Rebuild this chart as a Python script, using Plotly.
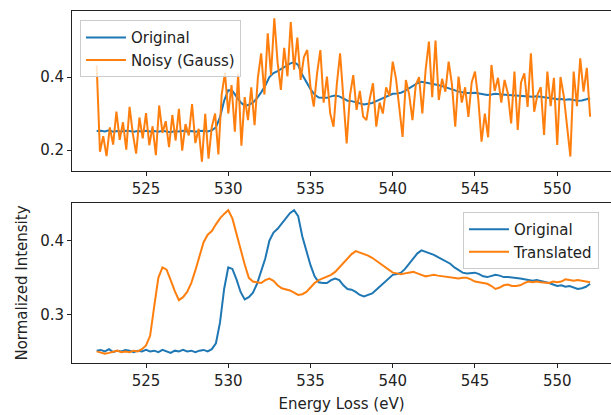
import numpy as np
import plotly.graph_objects as go
from plotly.subplots import make_subplots

# Energy grids (eV)
energy = np.round(np.arange(522.0, 552.0001, 0.25), 2)
energy_noisy = np.round(np.arange(522.0, 552.0001, 0.2), 2)

original = [
    0.252, 0.253, 0.251, 0.254, 0.250, 0.252, 0.251, 0.253, 0.252, 0.250,
    0.252, 0.251, 0.253, 0.251, 0.252, 0.250, 0.253, 0.251, 0.249, 0.252,
    0.251, 0.253, 0.251, 0.252, 0.250, 0.252, 0.253, 0.251, 0.254, 0.262,
    0.290, 0.335, 0.364, 0.362, 0.348, 0.331, 0.321, 0.324, 0.330, 0.342,
    0.358, 0.376, 0.400, 0.411, 0.416, 0.423, 0.430, 0.437, 0.441, 0.433,
    0.406, 0.386, 0.367, 0.352, 0.344, 0.343, 0.343, 0.347, 0.349, 0.347,
    0.340, 0.335, 0.334, 0.331, 0.327, 0.325, 0.327, 0.329, 0.334, 0.339,
    0.345, 0.350, 0.354, 0.355, 0.357, 0.362, 0.369, 0.376, 0.383, 0.387,
    0.385, 0.384, 0.381, 0.378, 0.375, 0.372, 0.369, 0.364, 0.360, 0.357,
    0.356, 0.356, 0.357, 0.355, 0.352, 0.351, 0.352, 0.354, 0.353, 0.351,
    0.351, 0.350, 0.349, 0.349, 0.348, 0.347, 0.346, 0.347, 0.346, 0.344,
    0.343, 0.341, 0.339, 0.340, 0.338, 0.339, 0.337, 0.335, 0.336, 0.338,
    0.342,
]

translated = [
    0.251, 0.250, 0.248, 0.249, 0.251, 0.252, 0.250, 0.251, 0.250, 0.252,
    0.251, 0.254, 0.259, 0.272, 0.312, 0.350, 0.364, 0.361, 0.347, 0.332,
    0.320, 0.324, 0.331, 0.343, 0.360, 0.378, 0.398, 0.408, 0.413, 0.422,
    0.430, 0.436, 0.441, 0.430, 0.408, 0.386, 0.368, 0.350, 0.345, 0.344,
    0.343, 0.347, 0.349, 0.346, 0.340, 0.336, 0.335, 0.333, 0.330, 0.327,
    0.328, 0.331, 0.337, 0.343, 0.347, 0.349, 0.351, 0.354, 0.358, 0.364,
    0.370, 0.376, 0.382, 0.386, 0.384, 0.383, 0.380, 0.377, 0.373, 0.369,
    0.365, 0.360, 0.357, 0.356, 0.355, 0.356, 0.357, 0.358, 0.356, 0.354,
    0.352, 0.353, 0.354, 0.353, 0.352, 0.351, 0.351, 0.350, 0.349, 0.350,
    0.350, 0.348, 0.345, 0.344, 0.343, 0.342, 0.339, 0.335, 0.337, 0.340,
    0.341, 0.339, 0.339, 0.340, 0.343, 0.345, 0.344, 0.345, 0.344, 0.343,
    0.343, 0.345, 0.344, 0.345, 0.348, 0.347, 0.346, 0.347, 0.346, 0.345,
    0.344,
]

noisy = [
    0.432, 0.195, 0.238, 0.183, 0.262, 0.215, 0.305, 0.228, 0.276, 0.201,
    0.318, 0.244, 0.190, 0.289, 0.232, 0.301, 0.213, 0.265, 0.186, 0.322,
    0.247, 0.279, 0.208, 0.296, 0.226, 0.313, 0.198, 0.271, 0.240, 0.326,
    0.219, 0.258, 0.168, 0.299, 0.176, 0.263,
    0.300, 0.188, 0.352, 0.412, 0.300, 0.378, 0.250, 0.408, 0.212, 0.345,
    0.282, 0.372, 0.268, 0.398, 0.465, 0.352, 0.520, 0.405, 0.561, 0.440,
    0.365, 0.480, 0.402, 0.551, 0.420, 0.508, 0.392, 0.455, 0.474, 0.372,
    0.319, 0.410, 0.474, 0.330, 0.401, 0.300, 0.264, 0.380, 0.465, 0.330,
    0.218, 0.350, 0.405, 0.310, 0.362, 0.292, 0.282, 0.340, 0.383, 0.264,
    0.330, 0.300, 0.372, 0.348, 0.442, 0.395, 0.310, 0.236, 0.392, 0.352,
    0.282, 0.378, 0.400, 0.300, 0.420, 0.497, 0.345, 0.500, 0.337, 0.395,
    0.360, 0.442, 0.380, 0.264, 0.401,
    0.330, 0.372, 0.291, 0.385, 0.415, 0.340, 0.223, 0.300, 0.235, 0.433,
    0.362, 0.398, 0.330, 0.392, 0.355, 0.273, 0.415, 0.255, 0.385, 0.410,
    0.318, 0.465, 0.305, 0.352, 0.372, 0.241, 0.415, 0.320, 0.398, 0.214,
    0.400, 0.348, 0.265, 0.182, 0.415, 0.320, 0.451, 0.360, 0.425, 0.291,
]

x_ticks = [525, 530, 535, 540, 545, 550]
top_y_ticks = [0.2, 0.4]
bottom_y_ticks = [0.3, 0.4]

BLUE = "#1f77b4"
ORANGE = "#ff7f0e"
FONT = "DejaVu Sans"

fig = make_subplots(rows=2, cols=1, vertical_spacing=0.0)

fig.add_trace(go.Scatter(x=energy, y=original, mode="lines", name="Original",
                         line=dict(color=BLUE, width=2), legend="legend"), row=1, col=1)
fig.add_trace(go.Scatter(x=energy_noisy, y=noisy, mode="lines", name="Noisy (Gauss)",
                         line=dict(color=ORANGE, width=2), legend="legend"), row=1, col=1)
fig.add_trace(go.Scatter(x=energy, y=original, mode="lines", name="Original",
                         line=dict(color=BLUE, width=2), legend="legend2"), row=2, col=1)
fig.add_trace(go.Scatter(x=energy, y=translated, mode="lines", name="Translated",
                         line=dict(color=ORANGE, width=2), legend="legend2"), row=2, col=1)

axis_common = dict(showgrid=False, zeroline=False, showline=True, linecolor="#222",
                   linewidth=1, ticks="outside", ticklen=4, tickcolor="#222",
                   tickfont=dict(family=FONT, size=15, color="#222"))

fig.update_xaxes(**axis_common, mirror=True, range=[520.5, 553.27], tickvals=x_ticks)
fig.update_yaxes(**axis_common, mirror=False)

fig.update_layout(
    xaxis=dict(domain=[0, 1]),
    yaxis=dict(domain=[0.5455, 1.0], range=[0.1425, 0.581], tickvals=top_y_ticks,
               tickformat=".1f"),
    xaxis2=dict(domain=[0, 1],
                title=dict(text="Energy Loss (eV)", font=dict(family=FONT, size=15, color="#222"),
                           standoff=9)),
    yaxis2=dict(domain=[0.0, 0.4545], range=[0.2354, 0.4507], tickvals=bottom_y_ticks,
                tickformat=".1f",
                title=dict(text="Normalized Intensity", font=dict(family=FONT, size=15, color="#222"),
                           standoff=8)),
)

legend_style = dict(bgcolor="rgba(255,255,255,0.8)", bordercolor="#cccccc", borderwidth=1,
                    font=dict(family=FONT, size=15, color="#222"),
                    xanchor="left", yanchor="top", tracegroupgap=0, itemwidth=40)

fig.update_layout(
    width=611, height=415,
    margin=dict(l=72, r=0, t=11, b=52),
    paper_bgcolor="white", plot_bgcolor="white",
    font=dict(family=FONT, size=15, color="#222"),
    showlegend=True,
    legend=dict(**legend_style, x=0.0148, y=0.974),
    legend2=dict(**legend_style, x=0.7254, y=0.429),
)

fig.write_html("out.html")
